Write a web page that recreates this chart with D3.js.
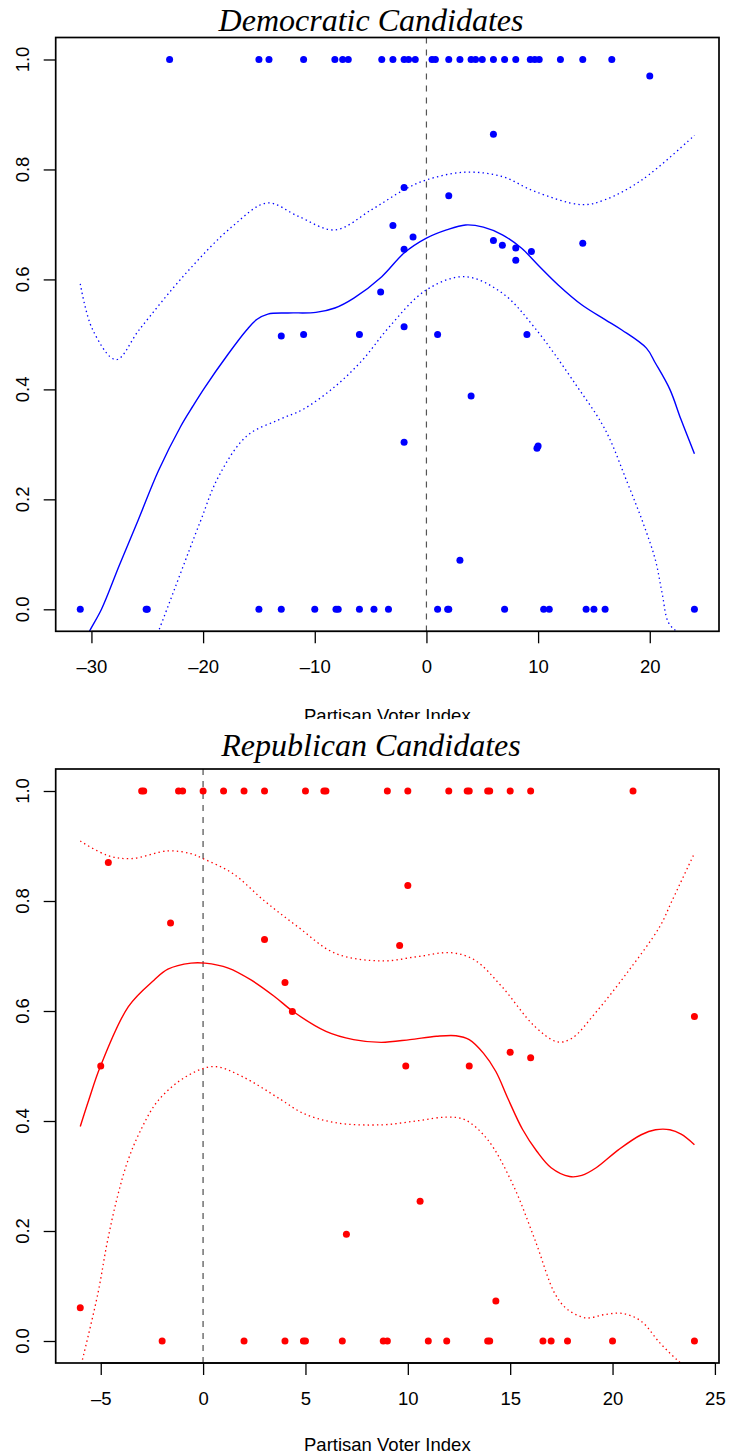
<!DOCTYPE html>
<html><head><meta charset="utf-8">
<script src="https://cdn.jsdelivr.net/npm/d3@7"></script>
<style>body{margin:0;background:#fff}svg{display:block}</style>
</head><body>
<script>
// ---------------- Data ----------------
const yTicks = [0, 0.2, 0.4, 0.6, 0.8, 1.0];
const demXTicks = [-30, -20, -10, 0, 10, 20];
const repXTicks = [-5, 0, 5, 10, 15, 20, 25];

const demPtX = [-23, -15, -14.1, -11, -8.2, -7.5, -7, -4, -3, -2, -1.6, -1, 0.5, 0.8, 2, 3, 4, 4.4, 5, 6, 7, 8, 9.3, 9.7, 10.1, 12, 14, 16.6, 20,
  6, -2, 2, -3, -1.2, -2, 6, 6.8, 8, 9.4, 8, 14, -4.1, -2, -13, -11, -6, 1, 9, 4, -2, 9.9, 10, 3,
  -31, -25.1, -25, -15, -13, -10, -8.1, -7.9, -6, -4.7, -3.4, 1, 1.9, 2, 7, 10.5, 11, 14.3, 15, 16, 24];
const demPtY = [1, 1, 1, 1, 1, 1, 1, 1, 1, 1, 1, 1, 1, 1, 1, 1, 1, 1, 1, 1, 1, 1, 1, 1, 1, 1, 1, 1, 0.97,
  0.864, 0.767, 0.752, 0.698, 0.677, 0.655, 0.671, 0.662, 0.657, 0.651, 0.635, 0.666, 0.577, 0.514, 0.497, 0.5, 0.5, 0.5, 0.5, 0.388, 0.304, 0.293, 0.297, 0.089,
  0, 0, 0, 0, 0, 0, 0, 0, 0, 0, 0, 0, 0, 0, 0, 0, 0, 0, 0, 0, 0];

const demFitX = [-31, -30.3, -29.1, -27.5, -25.8, -24, -22, -20.9, -19.9, -17.8, -16.1, -15.2, -14.2, -12.4, -9.9, -8.2, -6.5, -4, -2, 0, 1.8, 3.5, 5.1, 6.8, 8.5, 10.1, 11.8, 13.9, 16, 17.5, 19.7, 20.5, 21.8, 22.8, 24];
const demFitY = [-0.08, -0.045, 0, 0.08, 0.163, 0.252, 0.333, 0.37, 0.402, 0.463, 0.508, 0.527, 0.537, 0.539, 0.540, 0.548, 0.566, 0.605, 0.648, 0.675, 0.690, 0.699, 0.695, 0.681, 0.657, 0.624, 0.590, 0.554, 0.527, 0.508, 0.475, 0.448, 0.400, 0.345, 0.283];
const demUpX = [-31, -29.9, -27.8, -25.7, -21.5, -17.4, -14.25, -11.5, -8.2, -4.9, -2, 0, 3.46, 6.8, 9.7, 13.9, 16, 19.3, 24];
const demUpY = [0.592, 0.509, 0.454, 0.509, 0.612, 0.696, 0.739, 0.715, 0.690, 0.727, 0.763, 0.781, 0.795, 0.787, 0.760, 0.736, 0.745, 0.781, 0.862];
const demLoX = [-25, -24.0, -20.3, -18.6, -16.1, -13.2, -11.1, -8.2, -5.7, -3.4, 0, 3.46, 6.8, 9.7, 13.5, 16, 18.0, 19.4, 20.5, 21.1, 21.7, 22.6, 24];
const demLoY = [-0.09, -0.04, 0.157, 0.242, 0.315, 0.345, 0.363, 0.405, 0.454, 0.512, 0.581, 0.605, 0.575, 0.512, 0.405, 0.327, 0.23, 0.157, 0.09, 0.03, -0.025, -0.042, -0.05];

const repPtX = [-3, -2.9, -1.2, -1, 0, 1, 2, 3, 5, 5.9, 6, 9, 10, 12, 12.9, 13, 13.9, 14, 15, 16, 21,
  -4.63, 10, -1.59, 3, 9.6, 4, 4.36, 24, -5, 9.9, 13, 15, 16, 10.6, 7, -6, 14.3,
  -2, 2, 4, 4.9, 5, 6.8, 8.8, 9, 11, 11.9, 13.9, 14, 16.6, 17, 17.8, 20, 24];
const repPtY = [1, 1, 1, 1, 1, 1, 1, 1, 1, 1, 1, 1, 1, 1, 1, 1, 1, 1, 1, 1, 1,
  0.870, 0.828, 0.760, 0.730, 0.719, 0.652, 0.599, 0.590, 0.5, 0.5, 0.5, 0.525, 0.515, 0.254, 0.194, 0.0605, 0.0726,
  0, 0, 0, 0, 0, 0, 0, 0, 0, 0, 0, 0, 0, 0, 0, 0, 0];

const repFitX = [-6, -5.58, -5.02, -3.65, -2.4, -1.72, -0.59, 0.09, 1.23, 2.36, 3.5, 4.4, 6.0, 7.35, 8.7, 10.1, 11.4, 12.35, 13.0, 13.7, 14.3, 14.9, 15.6, 16.3, 17.0, 17.9, 18.5, 19.2, 20.3, 21.4, 22.1, 22.8, 23.35, 24];
const repFitY = [0.390, 0.4386, 0.499, 0.608, 0.656, 0.676, 0.687, 0.687, 0.678, 0.656, 0.626, 0.599, 0.563, 0.548, 0.543, 0.548, 0.554, 0.555, 0.548, 0.523, 0.49, 0.44, 0.385, 0.345, 0.315, 0.299, 0.301, 0.315, 0.348, 0.375, 0.384, 0.384, 0.376, 0.357];
const repUpX = [-6, -4.68, -3.54, -1.72, -0.59, 0, 1.45, 3.0, 4.63, 6.45, 8.7, 10.5, 12.1, 13.25, 14.6, 16.2, 17.3, 18.0, 19.15, 20.7, 22.3, 22.9, 24];
const repUpY = [0.909, 0.883, 0.877, 0.891, 0.886, 0.877, 0.850, 0.80, 0.753, 0.705, 0.691, 0.699, 0.706, 0.693, 0.644, 0.572, 0.544, 0.550, 0.596, 0.669, 0.753, 0.80, 0.887];
const repLoX = [-6, -5.9, -5.13, -4.68, -4.2, -3.7, -3.09, -2.2, -0.82, 0.54, 1.9, 3.8, 4.86, 6.45, 8.7, 10.5, 11.9, 12.8, 13.9, 15.1, 16.2, 17.2, 17.8, 18.7, 19.6, 20.5, 21.4, 22.3, 23.2, 24];
const repLoY = [-0.05, -0.035, 0.088, 0.18, 0.26, 0.325, 0.38, 0.437, 0.481, 0.499, 0.481, 0.439, 0.4145, 0.397, 0.393, 0.4005, 0.407, 0.402, 0.366, 0.287, 0.185, 0.085, 0.0575, 0.042, 0.048, 0.050, 0.036, -0.003, -0.036, -0.06];

// ---------------- Drawing ----------------
const W = 729, H = 1456;
const svg = d3.select("body").append("svg").attr("width", W).attr("height", H);
const SANS = "'Liberation Sans', Arial, Helvetica, sans-serif";
const SERIF = "'Liberation Serif', 'Times New Roman', serif";

function zip(xs, ys) { return xs.map((x, i) => [x, ys[i]]); }

function panel(cfg) {
  const { id, top, bottom, left, right, xDomain, xTicks, color, title, titleX, titleY, xlabY, xlabClip,
    ptX, ptY, fitX, fitY, upX, upY, loX, loY, vlineColor, vlineWidth } = cfg;
  const x = d3.scaleLinear().domain(xDomain).range([left, right]);
  const y = d3.scaleLinear().domain([-0.04, 1.04]).range([bottom, top]);
  const g = svg.append("g");

  const clipId = "clip" + id;
  svg.append("clipPath").attr("id", clipId).append("rect")
    .attr("x", left).attr("y", top).attr("width", right - left).attr("height", bottom - top);

  // dashed vertical line at 0
  g.append("line").attr("x1", x(0)).attr("x2", x(0)).attr("y1", top).attr("y2", bottom)
    .attr("stroke", vlineColor).attr("stroke-width", vlineWidth).attr("stroke-dasharray", "6,6");

  const line = d3.line().x(d => x(d[0])).y(d => y(d[1])).curve(d3.curveCatmullRom.alpha(0.5));
  const lg = g.append("g").attr("clip-path", `url(#${clipId})`);
  lg.append("path").attr("d", line(zip(fitX, fitY))).attr("fill", "none")
    .attr("stroke", color).attr("stroke-width", 1.4);
  [[upX, upY], [loX, loY]].forEach(([xs, ys]) => {
    lg.append("path").attr("d", line(zip(xs, ys))).attr("fill", "none")
      .attr("stroke", color).attr("stroke-width", 1.3).attr("stroke-dasharray", "1.4,3.2");
  });

  // points
  g.append("g").selectAll("circle").data(zip(ptX, ptY)).join("circle")
    .attr("cx", d => x(d[0])).attr("cy", d => y(d[1])).attr("r", 3.5).attr("fill", color);

  // x axis
  const xa = g.append("g").attr("transform", `translate(0,${bottom})`)
    .call(d3.axisBottom(x).tickValues(xTicks).tickSize(12).tickPadding(17)
      .tickFormat(d => (d < 0 ? "\u2013" + Math.abs(d) : String(d))));
  xa.select(".domain").remove();
  xa.selectAll("line").attr("stroke", "#000").attr("stroke-width", 1.3);
  xa.selectAll("text").attr("font-family", SANS).attr("font-size", 18.5).attr("fill", "#000");
  g.append("line").attr("x1", x(xTicks[0])).attr("x2", x(xTicks[xTicks.length - 1]))
    .attr("y1", bottom).attr("y2", bottom).attr("stroke", "#000").attr("stroke-width", 1.3);

  // y axis
  const ya = g.append("g").attr("transform", `translate(${left},0)`)
    .call(d3.axisLeft(y).tickValues(yTicks).tickSize(12).tickFormat(d3.format(".1f")));
  ya.select(".domain").remove();
  ya.selectAll("line").attr("stroke", "#000").attr("stroke-width", 1.3);
  ya.selectAll("text").remove();
  g.append("g").selectAll("text").data(yTicks).join("text")
    .attr("transform", d => `translate(28.5,${y(d)}) rotate(-90)`)
    .attr("text-anchor", "middle").attr("font-family", SANS).attr("font-size", 18.5)
    .text(d3.format(".1f"));

  // box
  g.append("rect").attr("x", left).attr("y", top).attr("width", right - left).attr("height", bottom - top)
    .attr("fill", "none").attr("stroke", "#000").attr("stroke-width", 1.7);

  // title
  g.append("text").attr("x", titleX).attr("y", titleY).attr("text-anchor", "middle")
    .attr("font-family", SERIF).attr("font-style", "italic").attr("font-size", 32).text(title);

  // x label
  const xl = g.append("text").attr("x", (left + right) / 2).attr("y", xlabY).attr("text-anchor", "middle")
    .attr("font-family", SANS).attr("font-size", 18.5).text("Partisan Voter Index");
  if (xlabClip) {
    svg.append("clipPath").attr("id", "xl" + id).append("rect")
      .attr("x", 0).attr("y", 0).attr("width", W).attr("height", xlabClip);
    xl.attr("clip-path", `url(#xl${id})`);
  }
}

panel({
  id: "d", top: 37.5, bottom: 631.3, left: 55.7, right: 719, xDomain: [-33.2, 26.2], xTicks: demXTicks,
  color: "#0000ff", title: "Democratic Candidates", titleX: 371, titleY: 31, xlabY: 722, xlabClip: 719,
  ptX: demPtX, ptY: demPtY, fitX: demFitX, fitY: demFitY, upX: demUpX, upY: demUpY, loX: demLoX, loY: demLoY,
  vlineColor: "#555", vlineWidth: 1.2
});
panel({
  id: "r", top: 769, bottom: 1363, left: 55.7, right: 719, xDomain: [-7.2, 25.2], xTicks: repXTicks,
  color: "#ff0000", title: "Republican Candidates", titleX: 371, titleY: 756, xlabY: 1451, xlabClip: null,
  ptX: repPtX, ptY: repPtY, fitX: repFitX, fitY: repFitY, upX: repUpX, upY: repUpY, loX: repLoX, loY: repLoY,
  vlineColor: "#888", vlineWidth: 1.8
});
</script>
</body></html>
